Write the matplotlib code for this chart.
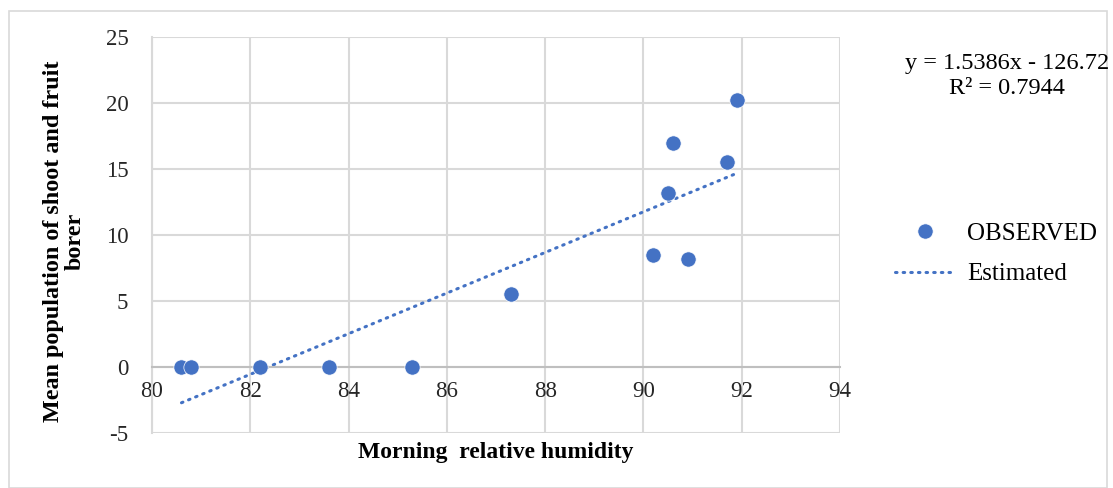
import numpy as np
import matplotlib.pyplot as plt
from matplotlib.patches import Rectangle

# observed data
humidity = [80.6, 80.8, 82.2, 83.6, 85.3, 87.3, 90.2, 90.5, 90.6, 90.9, 91.7, 91.9]
population = [0, 0, 0, 0, 0, 5.5, 8.5, 13.2, 17.0, 8.2, 15.5, 20.2]

# linear trend stated on the chart
slope = 1.5386
intercept = -126.72
r2 = 0.7944

xticks = [80, 82, 84, 86, 88, 90, 92, 94]
yticks = [-5, 0, 5, 10, 15, 20, 25]

blue = '#4472C4'
grid = '#d9d9d9'
plt.rcParams['font.family'] = ['Liberation Serif', 'DejaVu Serif']
plt.rcParams['axes.unicode_minus'] = False

fig = plt.figure(figsize=(11.13, 4.88), dpi=100)
fig.patches.append(Rectangle((9 / 1113, 0), 1098 / 1113, 477 / 488, transform=fig.transFigure,
                             fill=False, edgecolor=grid, linewidth=1.2))
ax = fig.add_axes([152 / 1113, 1 - 433 / 488, 688 / 1113, 396 / 488])

ax.set_xlim(80, 94)
ax.set_ylim(-5, 25)
ax.set_xticks(xticks)
ax.set_yticks(yticks)
ax.grid(True, color=grid, linewidth=1.5)
ax.set_axisbelow(True)

for side in ['top', 'right']:
    ax.spines[side].set_visible(False)
ax.spines['left'].set_color(grid)
ax.spines['left'].set_linewidth(1.5)
ax.spines['bottom'].set_position(('data', 0))
ax.spines['bottom'].set_color('#bfbfbf')
ax.spines['bottom'].set_linewidth(1.5)
ax.tick_params(axis='both', length=0, labelsize=16.5, colors='#262626')
ax.tick_params(axis='x', pad=10)
ax.tick_params(axis='y', pad=17)

xs = np.array([min(humidity), max(humidity)])
ax.plot(xs, slope * xs + intercept, linestyle=(0, (0.5, 2)), color=blue, linewidth=2.2,
        dash_capstyle='round', label='Estimated', zorder=2)
ax.plot(humidity, population, 'o', color=blue, markersize=11, markeredgecolor='white',
        markeredgewidth=0.5, label='OBSERVED', zorder=3, clip_on=False)

ax.set_xlabel('Morning  relative humidity', fontsize=17, fontweight='bold', va='center')
ax.xaxis.set_label_coords(0.5, -0.048)
ax.set_ylabel('Mean population of shoot and fruit\nborer', fontsize=17.4, fontweight='bold',
              linespacing=1.05, va='center')
ax.yaxis.set_label_coords(-0.128, 0.485)

handles, labels = ax.get_legend_handles_labels()
fig.legend(handles[::-1], labels[::-1], loc='center left', bbox_to_anchor=(895 / 1113, 1 - 254 / 488),
           frameon=False, fontsize=18, handlelength=2.4, handletextpad=0.5, labelspacing=0.7,
           borderpad=0, borderaxespad=0)

fig.text(1007 / 1113, 1 - 63 / 488, f'y = {slope}x - {abs(intercept)}', ha='center', va='center',
         fontsize=17.5)
fig.text(1007 / 1113, 1 - 88 / 488, f'R² = {r2}', ha='center', va='center', fontsize=17.5)

fig.savefig('out.png', dpi=100)
